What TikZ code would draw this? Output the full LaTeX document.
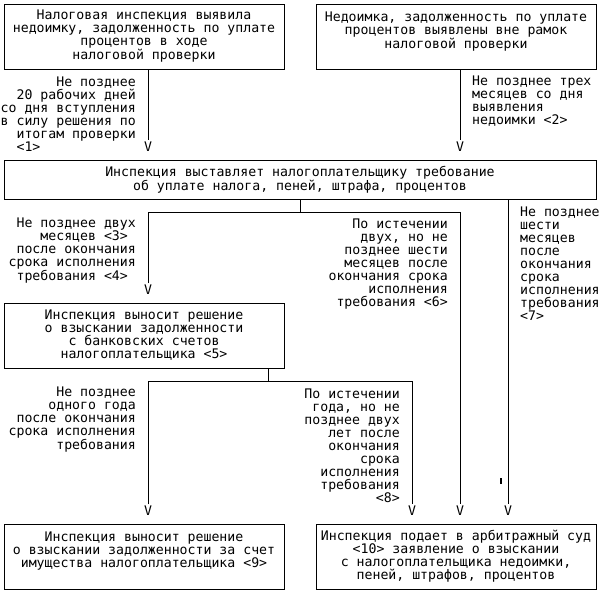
\documentclass[tikz,border=0pt]{standalone}
\usepackage{fontspec}
\setmonofont{DejaVu Sans Mono}
\usepackage{tikz}
\newcommand{\gridfont}{\ttfamily\fontsize{13.2}{13}\selectfont}
\tikzset{
    flow-box/.style = {draw=black, fill=white, line width=0.8pt, rectangle, minimum width=280pt, minimum height=65pt, inner sep=0pt, align=center, font=\gridfont},
    wide-box/.style = {flow-box, minimum width=592pt, minimum height=39pt},
    note-right/.style = {anchor=east, inner sep=0pt, align=right, font=\gridfont},
    note-left/.style = {anchor=west, inner sep=0pt, align=left, font=\gridfont},
    tip-mark/.style = {inner sep=1.5pt, font=\gridfont},
    link/.style = {draw=black, line width=0.8pt},
}

\begin{document}
\begin{tikzpicture}[x=1pt, y=-1pt]
\useasboundingbox (0,0) rectangle (600,594);
% boxes
\node [flow-box] (found-audit) at (144,36.5) {Налоговая инспекция выявила\\недоимку, задолженность по уплате\\процентов в ходе\\налоговой проверки};
\node [flow-box] (found-other) at (456,36.5) {Недоимка, задолженность по уплате\\процентов выявлены вне рамок\\налоговой проверки\\~};
\node [wide-box] (demand) at (300,179.5) {Инспекция выставляет налогоплательщику требование\\об уплате налога, пеней, штрафа, процентов};
\node [flow-box] (bank-decision) at (144,335.5) {Инспекция выносит решение\\о взыскании задолженности\\с банковских счетов\\налогоплательщика <5>};
\node [flow-box] (property-decision) at (144,556.5) {Инспекция выносит решение\\о взыскании задолженности за счет\\имущества налогоплательщика <9>\\~};
\node [flow-box] (court-claim) at (456,556.5) {Инспекция подает в арбитражный суд\\<10> заявление о взыскании\\с налогоплательщика недоимки,\\пеней, штрафов, процентов};

% arrow tips
\node [tip-mark] (v1) at (148,147) {V};
\node [tip-mark] (v2) at (460,147) {V};
\node [tip-mark] (v3) at (148,290) {V};
\node [tip-mark] (v4) at (148,511) {V};
\node [tip-mark] (v5) at (412,511) {V};
\node [tip-mark] (v6) at (460,511) {V};
\node [tip-mark] (v7) at (508,511) {V};

% terms
\node [note-right] (term-1) at (136,114.5) {Не позднее\\20 рабочих дней\\со дня вступления\\в силу решения по\\итогам проверки\\<1>\hphantom{000000000000}};
\node [note-left] (term-2) at (472,101.5) {Не позднее трех\\месяцев со дня\\выявления\\недоимки <2>};
\node [note-right] (term-3) at (136,251) {Не позднее двух\\месяцев <3>\hphantom{0}\\после окончания\\срока исполнения\\требования <4>\hphantom{0}};
\node [note-right] (term-6) at (448,264) {По истечении\\двух, но не\\позднее шести\\месяцев после\\окончания срока\\исполнения\\требования <6>};
\node [note-left] (term-7) at (520,264) {Не позднее\\шести\\месяцев\\после\\окончания\\срока\\исполнения\\требования\\<7>};
\node [note-right] (term-year) at (136,420) {Не позднее\\одного года\\после окончания\\срока исполнения\\требования};
\node [note-right] (term-8) at (400,446) {По истечении\\года, но не\\позднее двух\\лет после\\окончания\\срока\\исполнения\\требования\\<8>};

% connectors
\coordinate (fork-demand) at (300,212);
\coordinate (fork-bank) at (268,381);
\draw [link] (v1 |- found-audit.south) -- (v1.north);
\draw [link] (v2 |- found-other.south) -- (v2.north);
\draw [link] (demand.south -| fork-demand) -- (fork-demand);
\draw [link] (v3.north) |- (v6 |- fork-demand) -- (v6.north);
\draw [link] (v7 |- demand.south) -- (v7.north);
\draw [link] (bank-decision.south -| fork-bank) -- (fork-bank);
\draw [link] (v4.north) |- (v5 |- fork-bank) -- (v5.north);
\draw [line width=1.5pt] (501,478) -- (501,484);
\end{tikzpicture}
\end{document}
